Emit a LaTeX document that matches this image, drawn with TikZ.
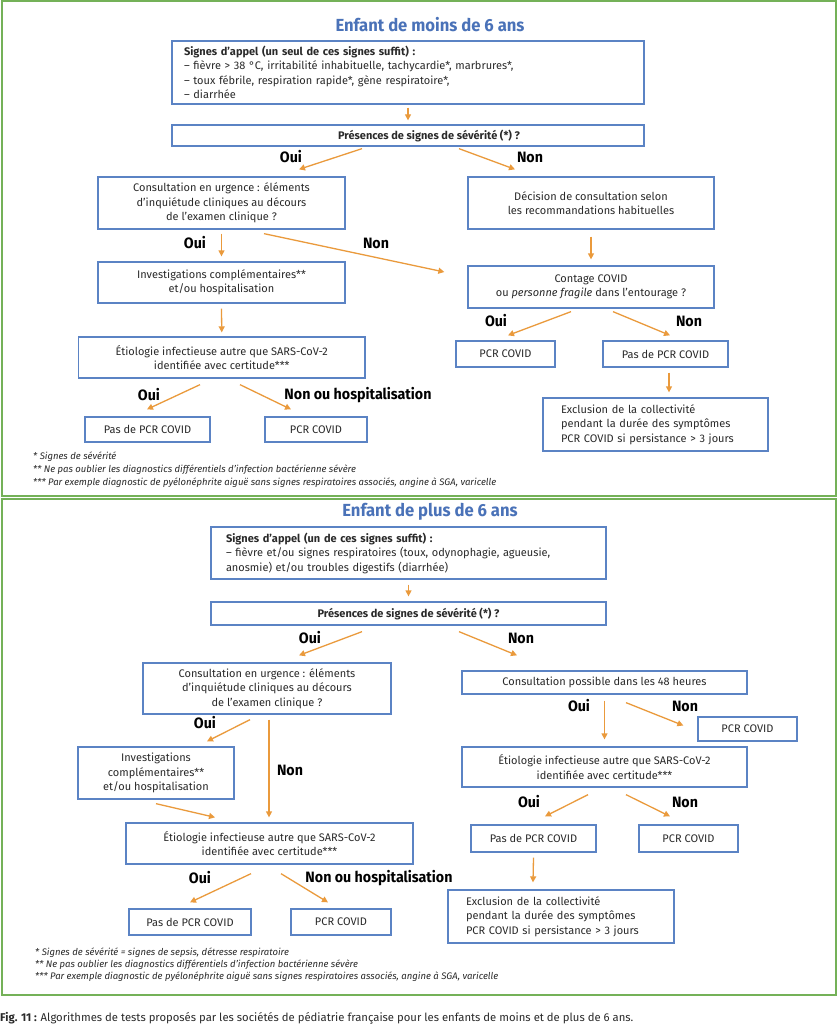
\documentclass[tikz,border=0pt]{standalone}
\usepackage{fontspec}
\setmainfont{Fira Sans}
\newfontfamily\condfont[FakeStretch=0.95]{Fira Sans}
\usetikzlibrary{arrows.meta}
\definecolor{boxblue}{HTML}{5B83C4}
\definecolor{titleblue}{HTML}{4A72B8}
\definecolor{arrorange}{HTML}{EA9A3C}
\definecolor{framegreen}{HTML}{74B158}
\definecolor{textcol}{HTML}{2A2A2A}
\newcommand{\boxfont}{\fontsize{11}{14.5}\selectfont}
\newcommand{\lblfont}{\condfont\fontsize{15}{17}\selectfont\bfseries}
\newcommand{\ttlfont}{\condfont\fontsize{17.5}{20}\selectfont\bfseries}
\newcommand{\notefont}{\fontsize{9.5}{11}\selectfont\itshape}
\tikzset{
  box/.style={draw=boxblue, line width=1.3pt, inner sep=0pt, align=center, font=\boxfont, text=textcol},
  lbox/.style={box, align=left},
  arr/.style={draw=arrorange, line width=1.3pt, -{Triangle[length=6pt,width=6pt]}},
  lbl/.style={font=\lblfont, text=black, inner sep=0pt},
  ttl/.style={font=\ttlfont, text=titleblue, inner sep=0pt},
  note/.style={font=\notefont, text=textcol, anchor=west, inner sep=0pt},
  frame/.style={draw=framegreen, line width=2pt}
}
\begin{document}
\begin{tikzpicture}[x=1pt,y=-1pt]
\useasboundingbox (0,0) rectangle (837,1024);
\fill[white] (0,0) rectangle (837,1024);
% frames
\draw[frame] (1.5,1.5) rectangle (835.5,495.5);
\draw[frame] (1.5,498.5) rectangle (835.5,995);

% ===== top section =====
\node[ttl] (t1) at (430,25) {Enfant de moins de 6 ans};
\node[lbox, minimum width=472pt, minimum height=63pt, text width=448pt, inner xsep=12pt] (a1) at (408,72.5)
  {\textbf{Signes d’appel (un seul de ces signes suffit) :}\\
   – fièvre > 38 °C, irritabilité inhabituelle, tachycardie*, marbrures*,\\
   – toux fébrile, respiration rapide*, gène respiratoire*,\\
   – diarrhée};
\node[box, minimum width=472pt, minimum height=21pt] (a2) at (408,135.5)
  {\hspace*{42pt}\textbf{Présences de signes de sévérité (*) ?}};
\node[box, minimum width=247pt, minimum height=52pt] (a3) at (221.5,203)
  {Consultation en urgence : éléments\\ d’inquiétude cliniques au décours\\ de l’examen clinique ?};
\node[box, minimum width=246pt, minimum height=52pt] (a4) at (591,203)
  {Décision de consultation selon\\ les recommandations habituelles};
\node[box, minimum width=247pt, minimum height=41pt] (a5) at (221.5,282.5)
  {Investigations complémentaires**\\ et/ou hospitalisation};
\node[box, minimum width=246pt, minimum height=42pt] (a6) at (591,287)
  {Contage COVID\\ ou \textit{personne fragile} dans l’entourage ?};
\node[box, minimum width=286.5pt, minimum height=41pt] (a7) at (221.75,357.5)
  {Étiologie infectieuse autre que SARS-CoV-2\\ identifiée avec certitude***};
\node[box, minimum width=99pt, minimum height=26pt] (a8) at (505.5,354) {PCR COVID};
\node[box, minimum width=125pt, minimum height=26pt] (a9) at (665.5,354) {Pas de PCR COVID};
\node[lbox, minimum width=225pt, minimum height=53pt, text width=189pt, inner xsep=18pt] (a10) at (655.5,424.5)
  {Exclusion de la collectivité\\ pendant la durée des symptômes\\ PCR COVID si persistance > 3 jours};
\node[box, minimum width=125pt, minimum height=25pt] (a11) at (147.5,429.5) {Pas de PCR COVID};
\node[box, minimum width=102pt, minimum height=25pt] (a12) at (316,429.5) {PCR COVID};

\draw[arr] ([yshift=-3pt]a1.south) -- ([yshift=4pt]a2.north);
\draw[arr] ([xshift=-46pt,yshift=-2pt]a2.south) -- ([xshift=77.5pt,yshift=7pt]a3.north);
\draw[arr] ([xshift=51pt,yshift=-2pt]a2.south) -- ([xshift=-76pt,yshift=7pt]a4.north);
\draw[arr] ([yshift=-4pt]a3.south) -- ([yshift=5pt]a5.north);
\draw[arr] ([xshift=42.5pt,yshift=-4pt]a3.south) -- ([xshift=-23pt,yshift=15pt]a6.west);
\draw[arr] ([yshift=-7pt]a4.south) -- ([yshift=6pt]a6.north);
\draw[arr] ([yshift=-5pt]a5.south) -- ([yshift=4pt]a7.north);
\draw[arr] ([xshift=-20pt,yshift=-3pt]a6.south) -- ([xshift=2.5pt,yshift=5pt]a8.north);
\draw[arr] ([xshift=22pt,yshift=-3pt]a6.south) -- ([xshift=4.5pt,yshift=5pt]a9.north);
\draw[arr] ([xshift=3.5pt,yshift=-5pt]a9.south) -- ([xshift=13.5pt,yshift=5pt]a10.north);
\draw[arr] ([xshift=-21.75pt,yshift=-6pt]a7.south) -- ([xshift=-0.5pt,yshift=7pt]a11.north);
\draw[arr] ([xshift=18.25pt,yshift=-6pt]a7.south) -- ([xshift=-25pt,yshift=7pt]a12.north);

\node[lbl] (l1) at (291,157) {Oui};
\node[lbl] (l2) at (530,157) {Non};
\node[lbl] (l3) at (195,243) {Oui};
\node[lbl] (l4) at (376,243) {Non};
\node[lbl] (l5) at (496,321) {Oui};
\node[lbl] (l6) at (689,321) {Non};
\node[lbl] (l7) at (149,395) {Oui};
\node[lbl] (l8) at (358,395) {Non ou hospitalisation};

\node[note] (n1) at (33,457) {* Signes de sévérité};
\node[note] (n2) at (33,470) {** Ne pas oublier les diagnostics différentiels d’infection bactérienne sévère};
\node[note] (n3) at (33,483) {*** Par exemple diagnostic de pyélonéphrite aiguë sans signes respiratoires associés, angine à SGA, varicelle};

% ===== bottom section =====
\node[ttl] (t2) at (430,512) {Enfant de plus de 6 ans};
\node[lbox, minimum width=395pt, minimum height=52pt, text width=365pt, inner xsep=15pt] (b1) at (408.5,553)
  {\textbf{Signes d’appel (un de ces signes suffit) :}\\
   – fièvre et/ou signes respiratoires (toux, odynophagie, agueusie,\\
   anosmie) et/ou troubles digestifs (diarrhée)};
\node[box, minimum width=395pt, minimum height=23pt] (b2) at (408.5,613.5)
  {\textbf{Présences de signes de sévérité (*) ?}};
\node[box, minimum width=248pt, minimum height=51pt] (b3) at (267,688.5)
  {Consultation en urgence : éléments\\ d’inquiétude cliniques au décours\\ de l’examen clinique ?};
\node[box, minimum width=285pt, minimum height=23pt] (b4) at (604.5,682.5)
  {Consultation possible dans les 48 heures};
\node[box, minimum width=99pt, minimum height=24pt] (b5) at (747.5,729) {PCR COVID};
\node[box, minimum width=156pt, minimum height=52pt] (b6) at (156,773)
  {Investigations\\ complémentaires**\\ et/ou hospitalisation};
\node[box, minimum width=285pt, minimum height=40pt] (b7) at (604.5,767)
  {Étiologie infectieuse autre que SARS-CoV-2\\ identifiée avec certitude***};
\node[box, minimum width=287pt, minimum height=41pt] (b8) at (269.5,843.5)
  {Étiologie infectieuse autre que SARS-CoV-2\\ identifiée avec certitude***};
\node[box, minimum width=125pt, minimum height=27pt] (b9) at (533.5,838.5) {Pas de PCR COVID};
\node[box, minimum width=99pt, minimum height=27pt] (b10) at (688.5,838.5) {PCR COVID};
\node[lbox, minimum width=226pt, minimum height=53pt, text width=190pt, inner xsep=18pt] (b11) at (561,916.5)
  {Exclusion de la collectivité\\ pendant la durée des symptômes\\ PCR COVID si persistance > 3 jours};
\node[box, minimum width=122pt, minimum height=26pt] (b12) at (190,922) {Pas de PCR COVID};
\node[box, minimum width=100pt, minimum height=26pt] (b13) at (341,922) {PCR COVID};

\draw[arr] ([yshift=-5pt]b1.south) -- ([yshift=5pt]b2.north);
\draw[arr] ([xshift=-46.5pt,yshift=-6pt]b2.south) -- ([xshift=32pt,yshift=7pt]b3.north);
\draw[arr] ([xshift=50.5pt,yshift=-6pt]b2.south) -- ([xshift=-87.5pt,yshift=15pt]b4.north);
\draw[arr] ([xshift=-17pt,yshift=-5pt]b3.south) -- ([xshift=51pt,yshift=5pt]b6.north);
\draw[arr] ([xshift=2pt,yshift=-5pt]b3.south) -- ([xshift=-0.5pt,yshift=5pt]b8.north);
\draw[arr] ([yshift=-6pt]b4.south) -- ([yshift=7pt]b7.north);
\draw[arr] ([xshift=21.5pt,yshift=-8pt]b4.south) -- ([xshift=-14pt,yshift=3.5pt]b5.west);
\draw[arr] ([yshift=-4pt]b6.south) -- ([xshift=-54.5pt,yshift=5pt]b8.north);
\draw[arr] ([xshift=-16.5pt,yshift=-7pt]b7.south) -- ([xshift=11.5pt,yshift=8pt]b9.north);
\draw[arr] ([xshift=21.5pt,yshift=-7pt]b7.south) -- ([xshift=-18.5pt,yshift=8pt]b10.north);
\draw[arr] ([yshift=-5pt]b9.south) -- ([xshift=-28pt,yshift=7pt]b11.north);
\draw[arr] ([xshift=-18.5pt,yshift=-9pt]b8.south) -- ([yshift=6pt]b12.north);
\draw[arr] ([xshift=11.5pt,yshift=-9pt]b8.south) -- ([xshift=-13pt,yshift=6pt]b13.north);

\node[lbl] (m1) at (310,638) {Oui};
\node[lbl] (m2) at (521,638) {Non};
\node[lbl] (m3) at (205,723) {Oui};
\node[lbl] (m4) at (290,770) {Non};
\node[lbl] (m5) at (579,706) {Oui};
\node[lbl] (m6) at (685,706) {Non};
\node[lbl] (m7) at (529,802) {Oui};
\node[lbl] (m8) at (685,802) {Non};
\node[lbl] (m9) at (200,878) {Oui};
\node[lbl] (m10) at (379,878) {Non ou hospitalisation};

\node[note] (p1) at (35,953) {* Signes de sévérité = signes de sepsis, détresse respiratoire};
\node[note] (p2) at (35,965) {** Ne pas oublier les diagnostics différentiels d’infection bactérienne sévère};
\node[note] (p3) at (35,977) {*** Par exemple diagnostic de pyélonéphrite aiguë sans signes respiratoires associés, angine à SGA, varicelle};

\node[anchor=west, inner sep=0pt, font=\fontsize{11.3}{13}\selectfont, text=textcol] (cap) at (0,1018)
  {\textbf{Fig. 11 :} Algorithmes de tests proposés par les sociétés de pédiatrie française pour les enfants de moins et de plus de 6 ans.};
\end{tikzpicture}
\end{document}
